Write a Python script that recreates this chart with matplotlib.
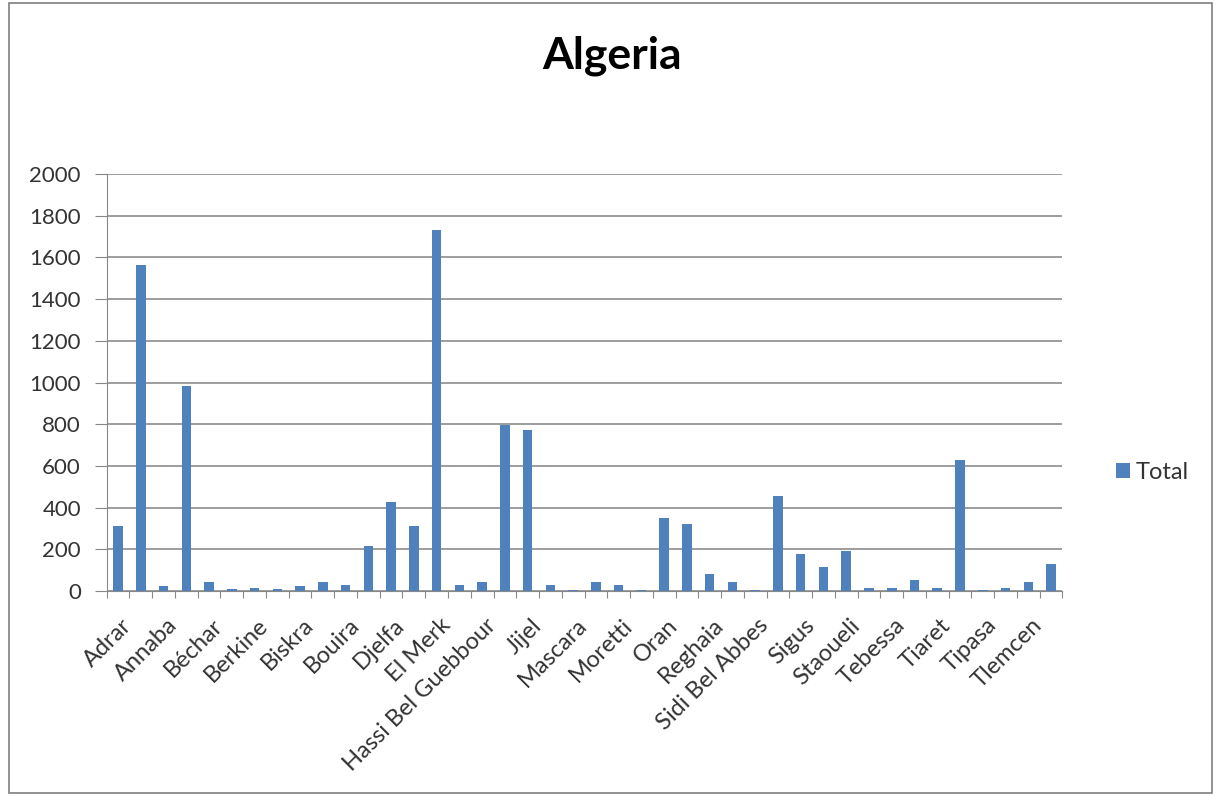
import matplotlib.pyplot as plt
import numpy as np
from matplotlib.patches import Rectangle

# data (every other category name is hidden in the original)
labels = ['Adrar', '', 'Annaba', '', 'Béchar', '', 'Berkine', '', 'Biskra', '',
          'Bouira', '', 'Djelfa', '', 'El Merk', '', 'Hassi Bel Guebbour', '',
          'Jijel', '', 'Mascara', '', 'Moretti', '', 'Oran', '', 'Reghaia', '',
          'Sidi Bel Abbes', '', 'Sigus', '', 'Staoueli', '', 'Tebessa', '',
          'Tiaret', '', 'Tipasa', '', 'Tlemcen', '']
total = [310, 1565, 25, 985, 45, 8, 16, 8, 22, 45,
         27, 215, 425, 310, 1730, 27, 45, 795, 770, 27,
         5, 45, 27, 6, 348, 323, 81, 42, 6, 455,
         179, 113, 192, 14, 14, 53, 14, 627, 5, 13,
         45, 128]

plt.rcParams['font.family'] = ['Lato', 'DejaVu Sans']

fig = plt.figure(figsize=(12.16, 7.96), dpi=100)
ax = fig.add_axes([0.0877, 0.2575, 0.7860, 0.5239])

x = np.arange(len(total))
ax.bar(x, total, width=0.42, color='#4F81BD', label='Total', zorder=3)

ax.set_xlim(-0.5, len(total) - 0.5)
ax.set_ylim(0, 2000)
ax.set_yticks(np.arange(0, 2001, 200))
ax.tick_params(axis='y', labelsize=16, colors='#333333', length=8.5, pad=10,
               color='#888888')
ax.yaxis.grid(True, color='#8c8c8c', linewidth=1.2, zorder=0)

# tick marks at category boundaries, labels at bar centres
ax.set_xticks(np.arange(-0.5, len(total), 1.0))
ax.set_xticklabels([])
ax.tick_params(axis='x', which='major', length=5, color='#888888')
ax.set_xticks(x + 0.12, minor=True)
ax.set_xticklabels(labels, minor=True, rotation=45, ha='right',
                   rotation_mode='anchor', fontsize=17, color='#333333')
ax.tick_params(axis='x', which='minor', length=0, pad=17)

for s in ['top', 'right']:
    ax.spines[s].set_visible(False)
ax.spines['left'].set_color('#888888')
ax.spines['bottom'].set_color('#888888')

fig.text(0.503, 0.93, 'Algeria', ha='center', va='center',
         fontsize=32, fontweight='bold', color='black')

fig.legend(loc='center left', bbox_to_anchor=(0.9, 0.407), frameon=False,
           fontsize=17, handlelength=0.6, handleheight=0.6, handletextpad=0.25,
           labelcolor='#333333')

# outer chart border
fig.patches.append(Rectangle((0.007, 0.004), 0.99, 0.992, transform=fig.transFigure,
                             fill=False, edgecolor='#7f7f7f', linewidth=1.2))

fig.savefig('out.png', dpi=100)
